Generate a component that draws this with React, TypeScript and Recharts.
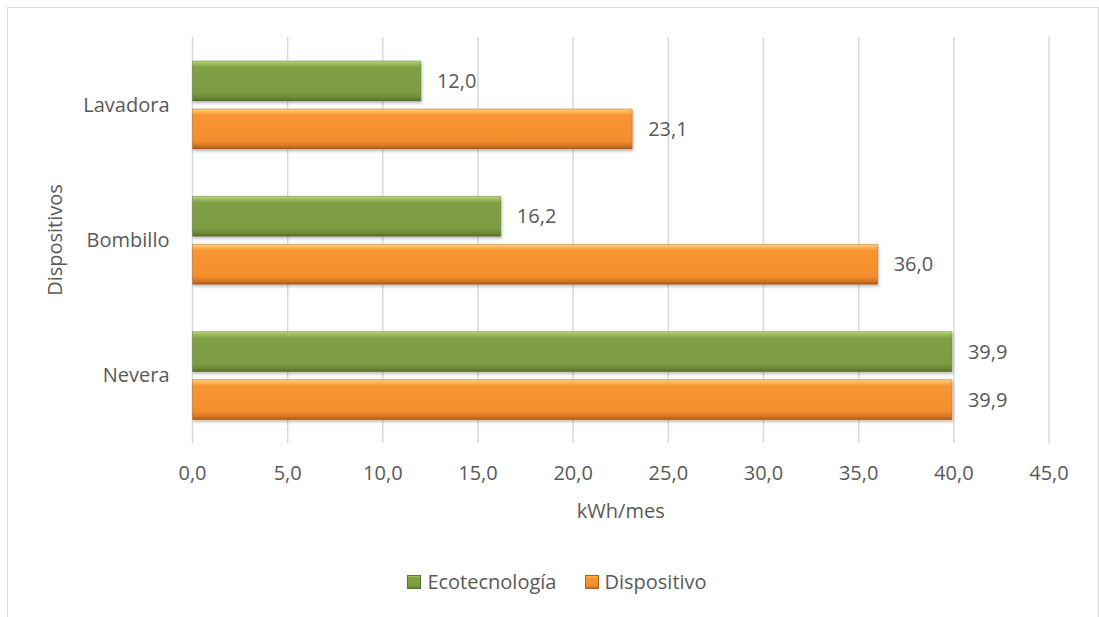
import React from 'react';
import {
  BarChart,
  Bar,
  XAxis,
  YAxis,
  CartesianGrid,
  Legend,
  LabelList,
  Label,
} from 'recharts';

const categories = ['Lavadora', 'Bombillo ', 'Nevera'];
const ecotecnologia = [12.0, 16.2, 39.9];
const dispositivo = [23.1, 36.0, 39.9];
const xTicks = [0, 5, 10, 15, 20, 25, 30, 35, 40, 45];
const seriesNames = ['Ecotecnología', 'Dispositivo'];

const data = categories.map((name, i) => ({
  name,
  eco: ecotecnologia[i],
  disp: dispositivo[i],
}));

const FONT = "'Open Sans', sans-serif";
const TEXT = '#595959';
const fmt = (v: number) => v.toFixed(1).replace('.', ',');

const LegendContent = () => (
  <div
    style={{
      width: 1090,
      display: 'flex',
      justifyContent: 'center',
      alignItems: 'center',
      paddingLeft: 8,
      boxSizing: 'border-box',
      fontFamily: FONT,
      fontSize: 20,
      color: TEXT,
      lineHeight: '27px',
    }}
  >
    <span style={{ display: 'flex', alignItems: 'center' }}>
      <svg width={14} height={14} style={{ marginRight: 6 }}>
        <rect x={0.5} y={0.5} width={13} height={13} fill="url(#gEco)" stroke="#5a7330" />
      </svg>
      {seriesNames[0]}
    </span>
    <span style={{ display: 'flex', alignItems: 'center', marginLeft: 29 }}>
      <svg width={14} height={14} style={{ marginRight: 5 }}>
        <rect x={0.5} y={0.5} width={13} height={13} fill="url(#gDisp)" stroke="#b0601d" />
      </svg>
      {seriesNames[1]}
    </span>
  </div>
);

export default function App() {
  return (
    <div
      style={{
        position: 'absolute',
        left: 7,
        top: 7,
        width: 1090,
        height: 620,
        border: '1px solid #d9d9d9',
        background: '#fff',
      }}
    >
      <BarChart
        width={1090}
        height={620}
        data={data}
        layout="vertical"
        margin={{ top: 29, right: 49, bottom: 33, left: 0 }}
        barSize={40}
        barGap={8}
      >
        <defs>
          <linearGradient id="gEco" x1="0" y1="0" x2="0" y2="1">
            <stop offset="0%" stopColor="#b9d882" />
            <stop offset="7%" stopColor="#9dbd5c" />
            <stop offset="16%" stopColor="#80a046" />
            <stop offset="80%" stopColor="#7c9b42" />
            <stop offset="92%" stopColor="#6a8837" />
            <stop offset="100%" stopColor="#526c29" />
          </linearGradient>
          <linearGradient id="gDisp" x1="0" y1="0" x2="0" y2="1">
            <stop offset="0%" stopColor="#fdd588" />
            <stop offset="7%" stopColor="#fbb655" />
            <stop offset="16%" stopColor="#f89531" />
            <stop offset="80%" stopColor="#f38e2d" />
            <stop offset="92%" stopColor="#d47526" />
            <stop offset="100%" stopColor="#a8561a" />
          </linearGradient>
          <filter id="shadow" x="-5%" y="-20%" width="110%" height="150%">
            <feDropShadow dx="1" dy="2" stdDeviation="1.5" floodColor="#000" floodOpacity="0.25" />
          </filter>
        </defs>
        <CartesianGrid horizontal={false} stroke="#d9d9d9" strokeWidth={1.5} />
        <XAxis
          type="number"
          domain={[0, 45]}
          ticks={xTicks}
          tickFormatter={fmt}
          axisLine={false}
          tickLine={false}
          tickSize={0}
          tickMargin={23}
          height={125}
          tick={{ fill: TEXT, fontSize: 20, fontFamily: FONT }}
        >
          <Label
            value="kWh/mes"
            position="insideTop"
            offset={61}
            style={{ fill: TEXT, fontSize: 20, fontFamily: FONT }}
          />
        </XAxis>
        <YAxis
          type="category"
          dataKey="name"
          width={184.5}
          axisLine={false}
          tickLine={false}
          tickSize={0}
          tickMargin={23}
          tick={{ fill: TEXT, fontSize: 20, fontFamily: FONT }}
        >
          <Label
            value="Dispositivos"
            angle={-90}
            position="insideLeft"
            offset={47}
            style={{ fill: TEXT, fontSize: 20, fontFamily: FONT, textAnchor: 'middle' }}
          />
        </YAxis>
        <Legend verticalAlign="bottom" wrapperStyle={{ left: 0 }} content={() => <LegendContent />} />
        <Bar
          dataKey="eco"
          name={seriesNames[0]}
          fill="url(#gEco)"
          stroke="#5f7a30"
          strokeWidth={0.5}
          filter="url(#shadow)"
          isAnimationActive={false}
        >
          <LabelList
            dataKey="eco"
            position="right"
            offset={16}
            formatter={(v: number) => fmt(v)}
            style={{ fill: TEXT, fontSize: 20, fontFamily: FONT }}
          />
        </Bar>
        <Bar
          dataKey="disp"
          name={seriesNames[1]}
          fill="url(#gDisp)"
          stroke="#b8621f"
          strokeWidth={0.5}
          filter="url(#shadow)"
          isAnimationActive={false}
        >
          <LabelList
            dataKey="disp"
            position="right"
            offset={16}
            formatter={(v: number) => fmt(v)}
            style={{ fill: TEXT, fontSize: 20, fontFamily: FONT }}
          />
        </Bar>
      </BarChart>
    </div>
  );
}
